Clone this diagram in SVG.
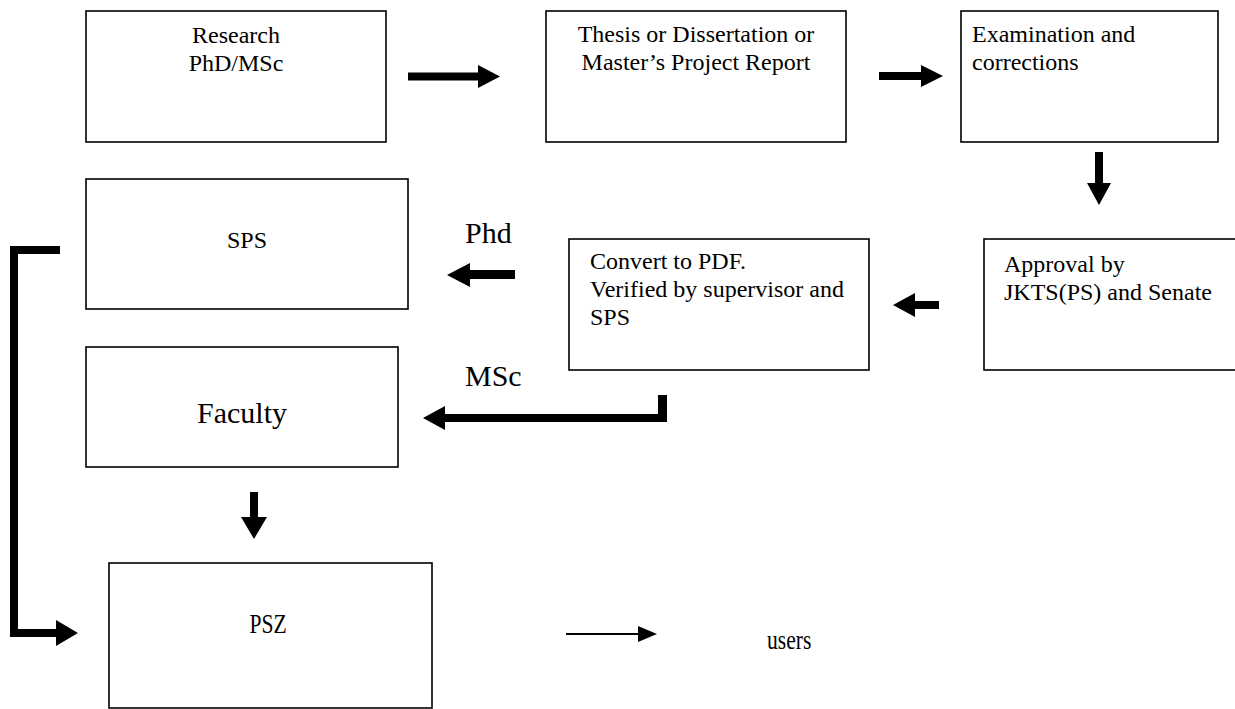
<svg xmlns="http://www.w3.org/2000/svg" width="1235" height="709" viewBox="0 0 1235 709">
<style>
.box{fill:#fff;stroke:#000;stroke-width:1.6}
.t{font-family:"Liberation Serif","Times New Roman",serif;font-size:24px;fill:#000}
.big{font-size:30px}
.c{text-anchor:middle}
.arr{fill:#000}
</style>
<rect width="1235" height="709" fill="#fff"/>
<g id="research"><rect class="box" x="86" y="11" width="300" height="131"/>
<text class="t c" x="236" y="43">Research</text><text class="t c" x="236" y="71">PhD/MSc</text></g>
<g id="thesis"><rect class="box" x="546" y="11" width="300" height="131"/>
<text class="t c" x="696" y="42">Thesis or Dissertation or</text><text class="t c" x="696" y="70">Master’s Project Report</text></g>
<g id="exam"><rect class="box" x="961" y="11" width="257" height="131"/>
<text class="t" x="972" y="42">Examination and</text><text class="t" x="972" y="70">corrections</text></g>
<g id="sps"><rect class="box" x="86" y="179" width="322" height="130"/>
<text class="t c" x="247" y="248">SPS</text></g>
<g id="convert"><rect class="box" x="569" y="239" width="300" height="131"/>
<text class="t" x="590" y="269">Convert to PDF.</text><text class="t" x="590" y="297">Verified by supervisor and</text><text class="t" x="590" y="325">SPS</text></g>
<g id="approval"><rect class="box" x="984" y="239" width="260" height="131"/>
<text class="t" x="1004" y="272">Approval by</text><text class="t" x="1004" y="300">JKTS(PS) and Senate</text></g>
<g id="faculty"><rect class="box" x="86" y="347" width="312" height="120"/>
<text class="t big c" x="242" y="423">Faculty</text></g>
<g id="psz"><rect class="box" x="109" y="563" width="323" height="145"/>
<text class="t c" x="268" y="633" transform="translate(268 633) scale(0.9 1.1) translate(-268 -633)">PSZ</text></g>
<g id="users"><text class="t" x="767" y="649" transform="translate(767 649) scale(0.9 1.1) translate(-767 -649)">users</text></g>
<g id="labels"><text class="t big" x="465" y="243">Phd</text><text class="t big" x="465" y="386">MSc</text></g>
<g id="connectors">
<polygon class="arr" points="408,72.5 478,72.5 478,65 500,76.5 478,88 478,80.5 408,80.5"/>
<polygon class="arr" points="879,72 921,72 921,65 943,76 921,87 921,80 879,80"/>
<polygon class="arr" points="1095,152 1103,152 1103,183 1111,183 1099,205 1087,183 1095,183"/>
<polygon class="arr" points="515,270 470,270 470,263 447,275 470,287 470,279 515,279"/>
<polygon class="arr" points="939,301 915,301 915,293 893,305 915,317 915,309 939,309"/>
<polygon class="arr" points="658,395 667,395 667,422 445,422 445,430 423,418 445,406 445,414 658,414"/>
<polygon class="arr" points="250,492 258,492 258,517 267,517 254,539 241,517 250,517"/>
<polygon class="arr" points="10,246 60,246 60,254 18,254 18,629 56,629 56,620 78,633 56,646 56,637 10,637"/>
<line x1="566" y1="634" x2="640" y2="634" stroke="#000" stroke-width="2"/>
<polygon class="arr" points="638,626 657,634 638,642"/>
</g>
</svg>
